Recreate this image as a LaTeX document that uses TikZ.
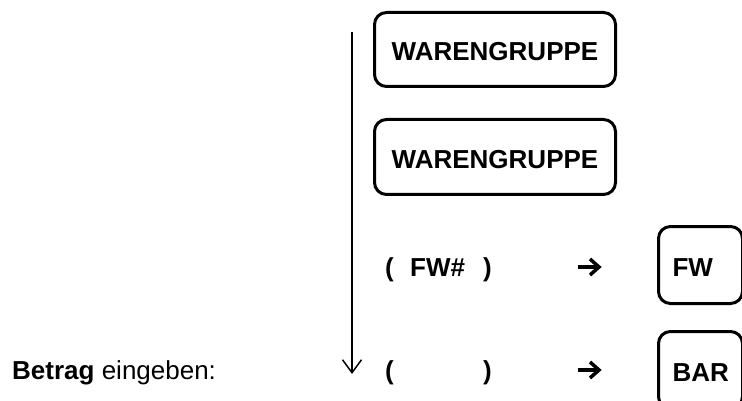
\documentclass[tikz,border=0pt]{standalone}
\usepackage{fontspec}
\setmainfont{Liberation Sans}
\usetikzlibrary{arrows.meta}
\begin{document}
\begin{tikzpicture}[x=1pt,y=-1pt,
  every node/.style={font=\fontsize{26}{30}\selectfont},
  keybox/.style={draw, line width=3pt, rounded corners=12pt, text height=23pt, text depth=0pt, font=\fontsize{26}{30}\selectfont\bfseries},
  lbl/.style={anchor=base west, inner sep=0pt},
  boldlbl/.style={lbl, font=\fontsize{26}{30}\selectfont\bfseries},
  flowline/.style={line width=1.5pt, -{Straight Barb[length=13pt,width=19pt,line width=1.5pt]}},
  chev/.style={line width=3.5pt}
]
\useasboundingbox (0,0) rectangle (742,401);
\clip (0,0) rectangle (742,401);
% boxes
\node[keybox, minimum width=241pt, minimum height=74pt, anchor=north west] (wg1) at (373,11) {WARENGRUPPE};
\node[keybox, minimum width=241pt, minimum height=75pt, anchor=north west] (wg2) at (373,118) {WARENGRUPPE};
\node[keybox, minimum height=77pt, text width=56pt, align=left, inner xsep=14pt, anchor=north west] (fwbox) at (657,225) {FW};
\node[keybox, minimum height=77pt, text width=56pt, align=left, inner xsep=14pt, anchor=north west] (barbox) at (657,330) {BAR};
% vertical flow arrow
\coordinate (vs) at (352,32);
\coordinate (ve) at (352,374);
\draw[flowline] (vs) -- (ve);
% row texts
\node[lbl] (betrag) at (12,379) {\textbf{Betrag} eingeben:};
\node[boldlbl] (lp1) at (385,276) {(};
\node[boldlbl] (fwh) at (410,276) {FW\#};
\node[boldlbl] (rp1) at (483,276) {)};
\node[boldlbl] (lp2) at (385,379) {(};
\node[boldlbl] (rp2) at (483,379) {)};
% small bold arrows
\coordinate (a1s) at (578,267);
\coordinate (a1e) at (598,267);
\coordinate (a1u) at (590,259);
\coordinate (a1d) at (590,275);
\draw[chev] (a1s) -- (a1e);
\draw[chev] (a1u) -- ([xshift=1pt]a1e) -- (a1d);
\coordinate (a2s) at (578,370);
\coordinate (a2e) at (598,370);
\coordinate (a2u) at (590,362);
\coordinate (a2d) at (590,378);
\draw[chev] (a2s) -- (a2e);
\draw[chev] (a2u) -- ([xshift=1pt]a2e) -- (a2d);
\end{tikzpicture}
\end{document}
